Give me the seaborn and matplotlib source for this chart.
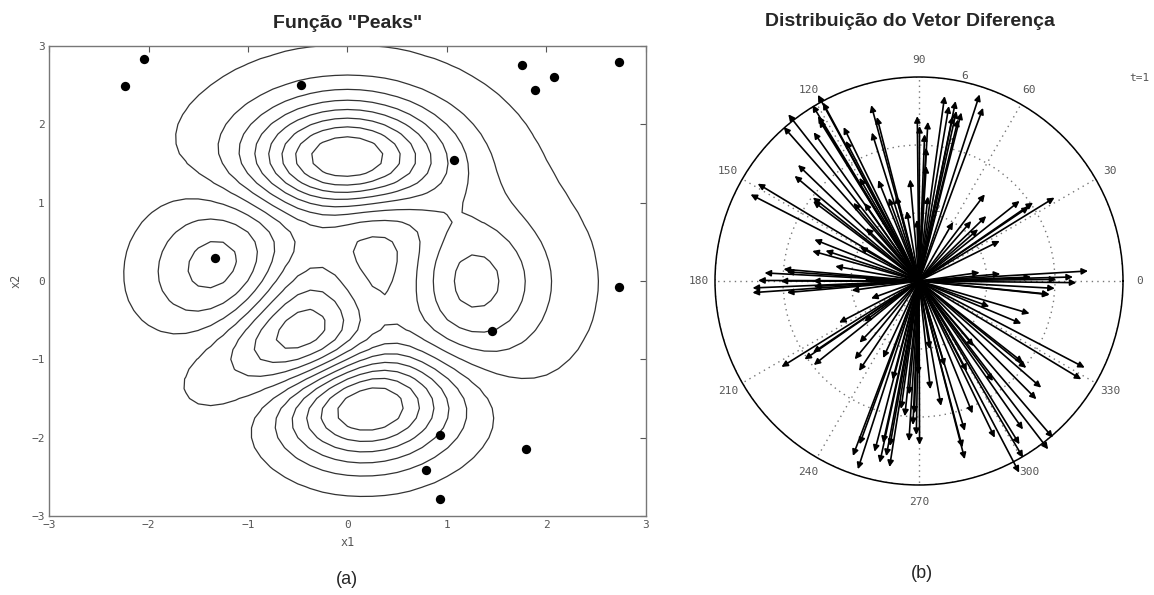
import numpy as np
import pandas as pd
import matplotlib
matplotlib.use("Agg")
import matplotlib.pyplot as plt
import seaborn as sns

# ================== dados ==================
# pontos (x1, x2) sobre a função peaks
PTS_X1 = [-2.24, -2.05, -0.47, 1.07, 1.75, 1.88, 2.08, -1.33, 2.73, 2.73,
          1.45, 0.93, 1.79, 0.79, 0.93]
PTS_X2 = [2.49, 2.83, 2.50, 1.55, 2.76, 2.44, 2.61, 0.29, 2.80, -0.08,
          -0.64, -1.97, -2.15, -2.41, -2.78]

# vetores diferença: ângulo (graus) e módulo
ANG_DEG = [
    118.5, 118.3, 121.2, 128.1, 131.3, 121.5, 121.8, 125.3, 116.1, 105.2,
    104.4, 107.6, 117.6, 136.2, 139.8, 148.9, 152.8, 141.8, 143.0, 158.4,
    164.3, 162.0, 175.0, 179.8, 182.4, 180.0, 180.0, 177.0, 176.0, 120.0,
    112.0, 125.0, 110.0, 130.0, 135.0, 150.0, 170.0, 178.0,
    90.6, 89.8, 86.8, 87.8, 86.9, 86.4, 82.1, 80.3, 78.5, 77.6,
    78.4, 76.4, 75.9, 72.0, 69.7, 105.0, 100.0, 95.0, 84.0, 92.0,
    31.6, 34.5, 34.0, 38.5, 52.8, 44.0, 48.9, 41.2, 26.4, 60.0,
    3.4, 1.5, -0.6, 0.7, -3.1, -5.8, 5.0, 2.0, 8.0,
    212.0, 214.4, 218.6, 214.0, 207.5, 216.5, 226.0, 230.6, 236.3, 184.0,
    185.0, 183.0, 188.0, 200.0,
    252.0, 249.3, 250.0, 257.8, 261.0, 255.4, 259.4, 257.5, 260.0, 266.4,
    270.2, 269.0, 267.6, 265.0, 269.4, 262.0, 255.0, 245.0, 264.0, 268.0,
    284.4, 284.6, 287.0, 280.0, 295.8, 297.6, 301.6, 300.5, 305.0, 307.5,
    310.5, 314.8, 318.9, 321.0, 321.9, 332.4, 328.8, 343.6, 337.4, 354.0,
    306.5, 286.8, 279.0, 292.0, 298.0, 310.0, 340.0, 276.0,
]
MODULO = [
    6.23, 5.96, 6.05, 6.23, 6.03, 5.69, 5.57, 5.36, 5.04, 5.36,
    4.98, 4.58, 4.65, 4.93, 4.79, 5.54, 5.57, 3.97, 3.90, 3.31,
    3.26, 2.89, 4.00, 4.73, 4.90, 4.07, 3.12, 4.55, 3.90, 3.50,
    3.20, 2.80, 2.60, 3.00, 2.20, 2.00, 2.50, 1.60,
    4.85, 4.56, 4.69, 4.32, 3.93, 3.39, 5.49, 5.22, 5.40, 5.12,
    4.95, 4.89, 5.11, 5.77, 5.43, 2.59, 2.09, 3.00, 2.50, 1.80,
    4.68, 4.07, 3.90, 3.78, 3.20, 2.75, 2.34, 2.31, 2.65, 2.00,
    4.98, 4.53, 4.63, 4.04, 4.00, 3.86, 2.40, 3.30, 1.80,
    4.77, 4.08, 3.96, 3.76, 2.65, 2.00, 2.52, 2.98, 3.18, 4.91,
    3.90, 3.10, 2.00, 1.50,
    5.82, 5.50, 5.11, 5.47, 5.54, 5.19, 5.24, 4.88, 4.93, 4.72,
    4.82, 4.53, 4.24, 3.35, 2.75, 3.80, 3.00, 2.50, 4.00, 3.90,
    5.41, 5.06, 4.61, 3.73, 5.12, 6.36, 5.64, 6.03, 5.33, 6.24,
    6.06, 4.90, 4.77, 4.06, 3.89, 5.50, 5.58, 3.39, 3.26, 3.86,
    3.66, 2.61, 2.03, 4.20, 3.00, 2.50, 2.20, 3.20,
]

THETA_TICKS = list(range(0, 360, 30))
R_TICKS = [2, 4, 6]
# ==========================================

MONO = ["DejaVu Sans Mono"]
GREY = "#555555"


def peaks(x, y):
    """função peaks (MATLAB)"""
    return (3 * (1 - x) ** 2 * np.exp(-x ** 2 - (y + 1) ** 2)
            - 10 * (x / 5 - x ** 3 - y ** 5) * np.exp(-x ** 2 - y ** 2)
            - 1 / 3 * np.exp(-(x + 1) ** 2 - y ** 2))


def plot_peaks(ax):
    g = np.linspace(-3, 3, 49)
    X, Y = np.meshgrid(g, g)
    Z = peaks(X, Y)
    niveis = np.linspace(Z.min(), Z.max(), 16)[1:-1]
    ax.contour(X, Y, Z, levels=niveis, colors="#333333", linewidths=0.9,
               linestyles="solid")

    df = pd.DataFrame({"x1": PTS_X1, "x2": PTS_X2})
    sns.scatterplot(data=df, x="x1", y="x2", color="black", s=45,
                    edgecolor="black", linewidth=0, ax=ax, zorder=5)

    ax.set_xlim(-3, 3)
    ax.set_ylim(-3, 3)
    ax.set_xticks(range(-3, 4))
    ax.set_yticks(range(-3, 4))
    ax.tick_params(direction="in", length=4, width=0.8, color=GREY,
                   labelsize=8, labelcolor=GREY, top=True, right=True,
                   labeltop=False, labelright=False, pad=3)
    for lab in ax.get_xticklabels() + ax.get_yticklabels():
        lab.set_family(MONO)
    for sp in ax.spines.values():
        sp.set_color("#777777")
        sp.set_linewidth(1.0)
    ax.set_xlabel("x1", family=MONO, fontsize=8.5, color=GREY, labelpad=4)
    ax.set_ylabel("x2", family=MONO, fontsize=8.5, color=GREY, labelpad=6)
    ax.set_title('Função "Peaks"', fontsize=14, fontweight="bold",
                 family=["Liberation Sans"], pad=13)


def plot_compass(ax):
    th = np.deg2rad(ANG_DEG)
    for t, r in zip(th, MODULO):
        ax.annotate("", xy=(t, r), xytext=(0, 0), annotation_clip=False,
                    arrowprops=dict(arrowstyle="-|>", color="black", lw=1.2,
                                    mutation_scale=9, shrinkA=0, shrinkB=0),
                    zorder=4)
    ax.set_ylim(0, 6)
    ax.set_yticks(R_TICKS)
    ax.set_yticklabels([str(v) for v in R_TICKS], family=MONO, fontsize=8,
                       color=GREY)
    ax.set_rlabel_position(78)
    ax.set_thetagrids(THETA_TICKS, [str(a) for a in THETA_TICKS],
                      family=MONO, fontsize=8, color=GREY)
    ax.tick_params(axis="x", pad=-1)
    ax.grid(True, linestyle=(0, (1, 3)), color="#777777", linewidth=1.0)
    ax.spines["polar"].set_color("black")
    ax.spines["polar"].set_linewidth(1.1)
    ax.text(1.04, 0.997, "t=1", transform=ax.transAxes, family=MONO,
            fontsize=8, color=GREY, ha="center", va="center")


def main():
    sns.set_theme(style="white")
    plt.rcParams["font.family"] = ["Liberation Sans", "DejaVu Sans"]
    fig = plt.figure(figsize=(11.54, 5.95), dpi=100)

    ax1 = fig.add_axes([49 / 1154, 1 - 516 / 595, 597 / 1154, 470 / 595])
    plot_peaks(ax1)

    ax2 = fig.add_axes([715 / 1154, 1 - 485 / 595, 408 / 1154, 408 / 595],
                       projection="polar")
    plot_compass(ax2)
    fig.text(910 / 1154, 1 - 21 / 595, "Distribuição do Vetor Diferença",
             ha="center", va="center", fontsize=14, fontweight="bold")

    fig.text(347 / 1154, 1 - 580 / 595, "(a)", ha="center", va="center",
             fontsize=13)
    fig.text(922 / 1154, 1 - 574 / 595, "(b)", ha="center", va="center",
             fontsize=13)

    fig.savefig("out.png", dpi=100, facecolor="white")


if __name__ == "__main__":
    main()
